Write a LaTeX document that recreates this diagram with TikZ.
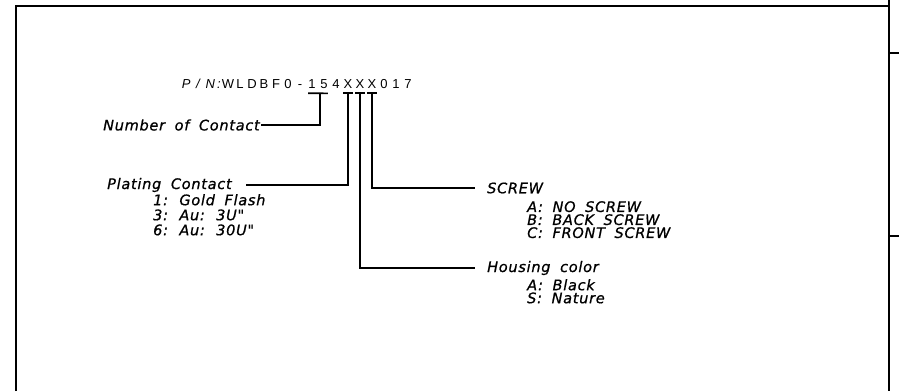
\documentclass[tikz,border=0pt]{standalone}
\usepackage{fontspec}
\setmainfont{Liberation Sans}
\newfontfamily\cadfont[LetterSpace=5,WordSpace=1.8,FakeBold=0.8]{DejaVu Sans}
\usetikzlibrary{positioning}

\begin{document}
\begin{tikzpicture}[x=1pt,y=-1pt,frame/.style={line width=2pt},lead/.style={line width=1.6pt},callout/.style={font=\cadfont\itshape\fontsize{14.5}{14.5}\selectfont,inner sep=0pt,anchor=west},optlist/.style={font=\cadfont\itshape\fontsize{14.5}{13}\selectfont,inner sep=0pt,anchor=north west,align=left},pnchar/.style={font=\fontsize{13}{13}\selectfont,inner sep=0pt,anchor=base}]
\useasboundingbox (0,0) rectangle (899,391);
% drawing frame
\draw[frame] (16,391) -- (16,6) -- (889,6);
\draw[frame] (889,0) -- (889,391);
\draw[frame] (889,53) -- (899,53);
\draw[frame] (889,236) -- (899,236);
% part number, one node per character
\node[pnchar,anchor=base east,font=\itshape\fontsize{13}{13}\selectfont] (pnlabel) at (221,88) {P\;\,/\;\,N\,:};
\foreach \ch [count=\i from 0] in {W,L,D,B,F,0,-,1,5,4,X,X,X,0,1,7}
  \node[pnchar] (pn\i) at (228+12*\i,88) {\ch};
% callouts
\node[callout] (noc) at (103,125) {Number of Contact};
\node[callout] (plc) at (107,185) {Plating Contact};
\node[optlist,font=\cadfont\itshape\fontsize{14.5}{15}\selectfont] (plopt) at (153,194) {1: Gold Flash\\3: Au: 3U"\\6: Au: 30U"};
\node[callout] (scr) at (487,188) {SCREW};
\node[optlist] (scropt) at (527,201) {A: NO SCREW\\B: BACK SCREW\\C: FRONT SCREW};
\node[callout] (hsg) at (487,268) {Housing color};
\node[optlist] (hsgopt) at (527,279) {A: Black\\S: Nature};
% leaders
\draw[lead] ([yshift=-5pt]pn7.south west) -- ([yshift=-5pt]pn8.south east);
\draw[lead] ([yshift=-5pt]pn8.south west) |- ([xshift=1pt]noc.east);
\foreach \k in {10,11,12}
  \draw[lead] ([yshift=-5pt]pn\k.south west) -- ([yshift=-5pt]pn\k.south east);
\draw[lead] ([yshift=-5pt]pn10.south) |- ([xshift=14pt]plc.east);
\draw[lead] ([yshift=-5pt]pn11.south) |- ([xshift=-12pt]hsg.west);
\draw[lead] ([yshift=-5pt]pn12.south) |- ([xshift=-12pt]scr.west);
\end{tikzpicture}
\end{document}
